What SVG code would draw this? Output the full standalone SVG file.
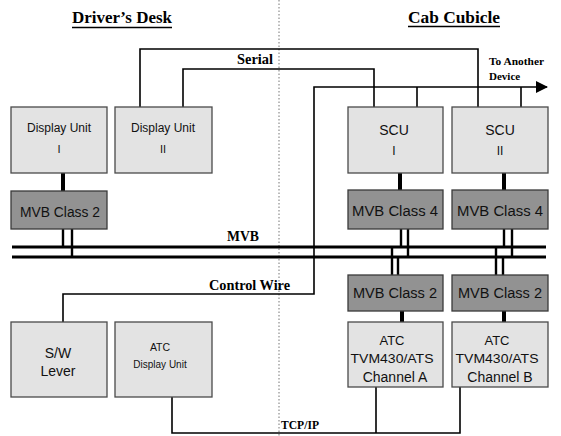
<svg xmlns="http://www.w3.org/2000/svg" width="561" height="436" viewBox="0 0 561 436">
<style>
.lt{fill:#e3e3e3;stroke:#4a4a4a;stroke-width:1.3}
.dk{fill:#929292;stroke:#3a3a3a;stroke-width:1.3}
.ln{fill:none;stroke:#000;stroke-width:1.6}
.th{fill:none;stroke:#000;stroke-width:4}
.bus{fill:none;stroke:#000;stroke-width:3}
.dr{fill:none;stroke:#000;stroke-width:2.4}
.sf{font-family:"Liberation Serif","Times New Roman",serif;font-weight:bold;fill:#000}
.ss{font-family:"Liberation Sans",Arial,sans-serif;fill:#111;text-anchor:middle}
</style>
<defs>
<marker id="arr" viewBox="0 0 12 12" refX="11" refY="6" markerWidth="12" markerHeight="12" markerUnits="userSpaceOnUse" orient="auto">
<path d="M0,0 L12,6 L0,12 Z" fill="#000"/>
</marker>
</defs>
<rect width="561" height="436" fill="#fff"/>
<line x1="279" y1="0" x2="279" y2="436" stroke="#777" stroke-width="1" stroke-dasharray="1.5,2"/>
<g id="titles">
<text class="sf" x="72" y="23" font-size="16" textLength="100" lengthAdjust="spacingAndGlyphs">Driver’s Desk</text>
<line x1="72" y1="27.5" x2="172" y2="27.5" stroke="#000" stroke-width="1.5"/>
<text class="sf" x="408" y="23" font-size="16" textLength="92" lengthAdjust="spacingAndGlyphs">Cab Cubicle</text>
<line x1="408" y1="26.5" x2="500" y2="26.5" stroke="#000" stroke-width="1.5"/>
</g>
<g id="connectors">
<path class="ln" d="M140,107 V49 H478 V107"/>
<path class="ln" d="M183,107 V69 H374 V107"/>
<path class="ln" d="M63,322 V294 H314 V87 H547" marker-end="url(#arr)"/>
<path class="ln" d="M417,87 V107 M521,87 V107"/>
<path class="ln" d="M172,397 V433 H460 V387 M376,387 V433"/>
<path class="bus" d="M12,247 H546 M12,257 H546"/>
<path class="th" d="M63,173 V191 M400,173 V190 M504,173 V190 M402,311 V322 M504,311 V322"/>
<path class="dr" d="M63,229 V247 M72,229 V257 M401,229 V247 M408,229 V257 M504,229 V247 M512,229 V257 M392,247 V275 M398,257 V275 M496,247 V275 M503,257 V275"/>
<text class="sf" x="237" y="64" font-size="14" textLength="36" lengthAdjust="spacingAndGlyphs">Serial</text>
<text class="sf" x="489" y="65" font-size="11" textLength="55" lengthAdjust="spacingAndGlyphs">To Another</text>
<text class="sf" x="489" y="80" font-size="11">Device</text>
<text class="sf" x="227" y="241" font-size="14" textLength="32" lengthAdjust="spacingAndGlyphs">MVB</text>
<text class="sf" x="209" y="290" font-size="14" textLength="81" lengthAdjust="spacingAndGlyphs">Control Wire</text>
<text class="sf" x="281" y="429" font-size="12.5" textLength="38" lengthAdjust="spacingAndGlyphs">TCP/IP</text>
</g>
<g id="du1"><rect class="lt" x="11" y="107" width="96" height="66"/>
<text class="ss" x="59" y="132" font-size="12">Display Unit</text><text class="ss" x="59" y="153" font-size="11">I</text></g>
<g id="du2"><rect class="lt" x="115" y="107" width="97" height="66"/>
<text class="ss" x="163" y="132" font-size="12">Display Unit</text><text class="ss" x="163" y="153" font-size="11">II</text></g>
<g id="mvb2l"><rect class="dk" x="11" y="191" width="96" height="38"/>
<text class="ss" x="60" y="217" font-size="14" textLength="80" lengthAdjust="spacingAndGlyphs">MVB Class 2</text></g>
<g id="scu1"><rect class="lt" x="348" y="107" width="95" height="66"/>
<text class="ss" x="394" y="135" font-size="14">SCU</text><text class="ss" x="394" y="155" font-size="12">I</text></g>
<g id="scu2"><rect class="lt" x="452" y="107" width="96" height="66"/>
<text class="ss" x="500" y="135" font-size="14">SCU</text><text class="ss" x="500" y="155" font-size="12">II</text></g>
<g id="mvb4a"><rect class="dk" x="348" y="190" width="95" height="39"/>
<text class="ss" x="395" y="216" font-size="14" textLength="86" lengthAdjust="spacingAndGlyphs">MVB Class 4</text></g>
<g id="mvb4b"><rect class="dk" x="452" y="190" width="96" height="39"/>
<text class="ss" x="500" y="216" font-size="14" textLength="86" lengthAdjust="spacingAndGlyphs">MVB Class 4</text></g>
<g id="mvb2a"><rect class="dk" x="348" y="275" width="95" height="36"/>
<text class="ss" x="395" y="298" font-size="14" textLength="84" lengthAdjust="spacingAndGlyphs">MVB Class 2</text></g>
<g id="mvb2b"><rect class="dk" x="452" y="275" width="96" height="36"/>
<text class="ss" x="500" y="298" font-size="14" textLength="84" lengthAdjust="spacingAndGlyphs">MVB Class 2</text></g>
<g id="sw"><rect class="lt" x="11" y="322" width="96" height="75"/>
<text class="ss" x="58" y="358" font-size="14">S/W</text><text class="ss" x="58" y="376" font-size="14">Lever</text></g>
<g id="atcdu"><rect class="lt" x="115" y="322" width="97" height="75"/>
<text class="ss" x="160" y="351" font-size="10.5">ATC</text><text class="ss" x="160" y="368" font-size="10">Display Unit</text></g>
<g id="atca"><rect class="lt" x="348" y="322" width="95" height="65"/>
<text class="ss" x="392" y="345" font-size="13">ATC</text>
<text class="ss" x="392" y="363" font-size="13" textLength="83" lengthAdjust="spacingAndGlyphs">TVM430/ATS</text>
<text class="ss" x="395" y="382" font-size="14">Channel A</text></g>
<g id="atcb"><rect class="lt" x="452" y="322" width="96" height="65"/>
<text class="ss" x="497" y="345" font-size="13">ATC</text>
<text class="ss" x="497" y="363" font-size="13" textLength="83" lengthAdjust="spacingAndGlyphs">TVM430/ATS</text>
<text class="ss" x="500" y="382" font-size="14">Channel B</text></g>
</svg>
